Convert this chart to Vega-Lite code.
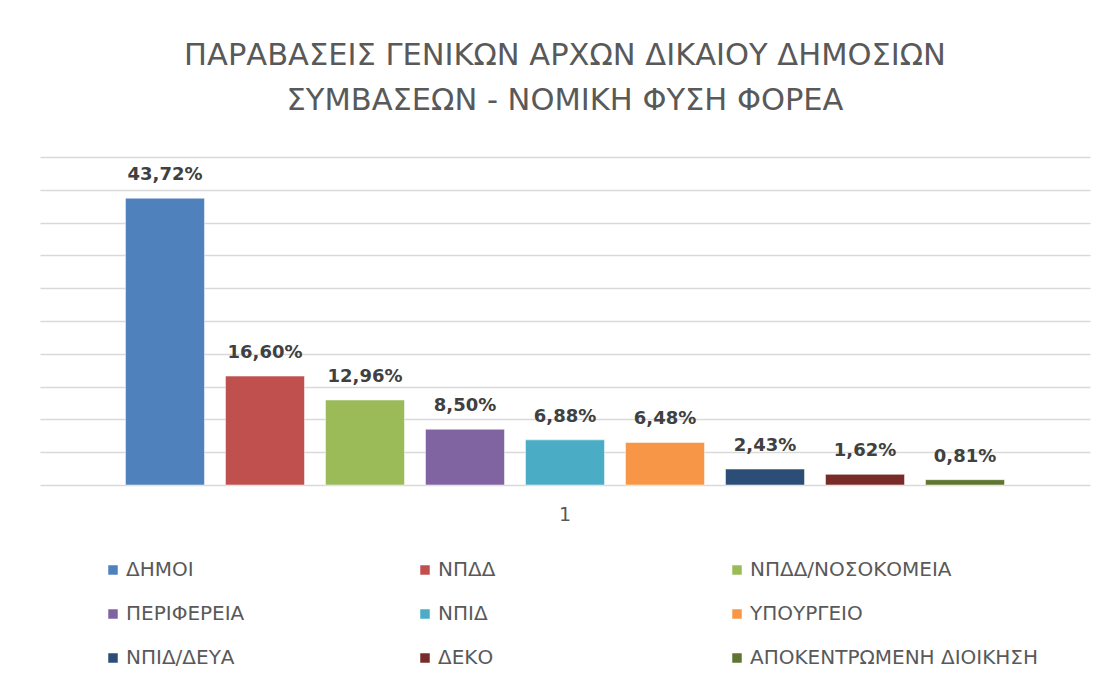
{
  "$schema": "https://vega.github.io/schema/vega-lite/v6.json",
  "width": 1050,
  "height": 328,
  "autosize": {"type": "none"},
  "padding": {"left": 40, "top": 157, "right": 15, "bottom": 201},
  "background": "white",
  "config": {
    "view": {"stroke": null},
    "locale": {"number": {"decimal": ",", "thousands": ".", "grouping": [3], "currency": ["", " €"]}}
  },
  "title": {
    "text": ["ΠΑΡΑΒΑΣΕΙΣ ΓΕΝΙΚΩΝ ΑΡΧΩΝ ΔΙΚΑΙΟΥ ΔΗΜΟΣΙΩΝ", "ΣΥΜΒΑΣΕΩΝ - ΝΟΜΙΚΗ ΦΥΣΗ ΦΟΡΕΑ"],
    "font": "DejaVu Sans",
    "fontSize": 30.5,
    "fontWeight": "normal",
    "color": "#595959",
    "lineHeight": 45,
    "anchor": "middle",
    "offset": 17,
    "baseline": "alphabetic"
  },
  "data": {
    "values": [
      {"cat": "1", "foreas": "ΔΗΜΟΙ", "value": 0.4372},
      {"cat": "1", "foreas": "ΝΠΔΔ", "value": 0.1660},
      {"cat": "1", "foreas": "ΝΠΔΔ/ΝΟΣΟΚΟΜΕΙΑ", "value": 0.1296},
      {"cat": "1", "foreas": "ΠΕΡΙΦΕΡΕΙΑ", "value": 0.0850},
      {"cat": "1", "foreas": "ΝΠΙΔ", "value": 0.0688},
      {"cat": "1", "foreas": "ΥΠΟΥΡΓΕΙΟ", "value": 0.0648},
      {"cat": "1", "foreas": "ΝΠΙΔ/ΔΕΥΑ", "value": 0.0243},
      {"cat": "1", "foreas": "ΔΕΚΟ", "value": 0.0162},
      {"cat": "1", "foreas": "ΑΠΟΚΕΝΤΡΩΜΕΝΗ ΔΙΟΙΚΗΣΗ", "value": 0.0081}
    ]
  },
  "encoding": {
    "x": {
      "field": "cat",
      "type": "nominal",
      "scale": {"paddingOuter": 0.0833, "paddingInner": 0},
      "axis": {
        "title": null,
        "labelAngle": 0,
        "ticks": false,
        "domain": false,
        "labelFont": "DejaVu Sans",
        "labelFontSize": 19,
        "labelColor": "#595959",
        "labelPadding": 20,
        "labelBaseline": "top"
      }
    },
    "xOffset": {
      "field": "foreas",
      "type": "nominal",
      "sort": ["ΔΗΜΟΙ", "ΝΠΔΔ", "ΝΠΔΔ/ΝΟΣΟΚΟΜΕΙΑ", "ΠΕΡΙΦΕΡΕΙΑ", "ΝΠΙΔ", "ΥΠΟΥΡΓΕΙΟ", "ΝΠΙΔ/ΔΕΥΑ", "ΔΕΚΟ", "ΑΠΟΚΕΝΤΡΩΜΕΝΗ ΔΙΟΙΚΗΣΗ"],
      "scale": {"paddingInner": 0.21, "paddingOuter": 0.105}
    },
    "y": {
      "field": "value",
      "type": "quantitative",
      "scale": {"domain": [0, 0.5]},
      "axis": {
        "title": null,
        "labels": false,
        "ticks": false,
        "domain": false,
        "grid": true,
        "values": [0, 0.05, 0.1, 0.15, 0.2, 0.25, 0.3, 0.35, 0.4, 0.45, 0.5],
        "gridColor": "#d9d9d9",
        "gridWidth": 1.4
      }
    }
  },
  "layer": [
    {
      "mark": {"type": "bar", "stroke": "white", "strokeWidth": 0.5},
      "encoding": {
        "color": {
          "field": "foreas",
          "type": "nominal",
          "scale": {
            "domain": ["ΔΗΜΟΙ", "ΝΠΔΔ", "ΝΠΔΔ/ΝΟΣΟΚΟΜΕΙΑ", "ΠΕΡΙΦΕΡΕΙΑ", "ΝΠΙΔ", "ΥΠΟΥΡΓΕΙΟ", "ΝΠΙΔ/ΔΕΥΑ", "ΔΕΚΟ", "ΑΠΟΚΕΝΤΡΩΜΕΝΗ ΔΙΟΙΚΗΣΗ"],
            "range": ["#4F81BD", "#C0504D", "#9BBB59", "#8064A2", "#4BACC6", "#F79646", "#2C4D75", "#772C2A", "#5F7530"]
          },
          "legend": {
            "title": null,
            "orient": "none",
            "direction": "horizontal",
            "legendX": 63,
            "legendY": 403,
            "columns": 3,
            "gridAlign": "all",
            "columnPadding": -1,
            "rowPadding": 24,
            "symbolType": "square",
            "symbolSize": 90,
            "symbolStrokeWidth": 0,
            "labelFont": "DejaVu Sans",
            "labelFontSize": 20,
            "labelColor": "#595959",
            "labelOffset": 3,
            "labelLimit": 400
          }
        }
      }
    },
    {
      "mark": {"type": "text", "baseline": "alphabetic", "dy": -18, "font": "DejaVu Sans", "fontWeight": "bold", "fontSize": 18, "color": "#404040"},
      "encoding": {"text": {"field": "value", "type": "quantitative", "format": ".2%"}}
    }
  ]
}
